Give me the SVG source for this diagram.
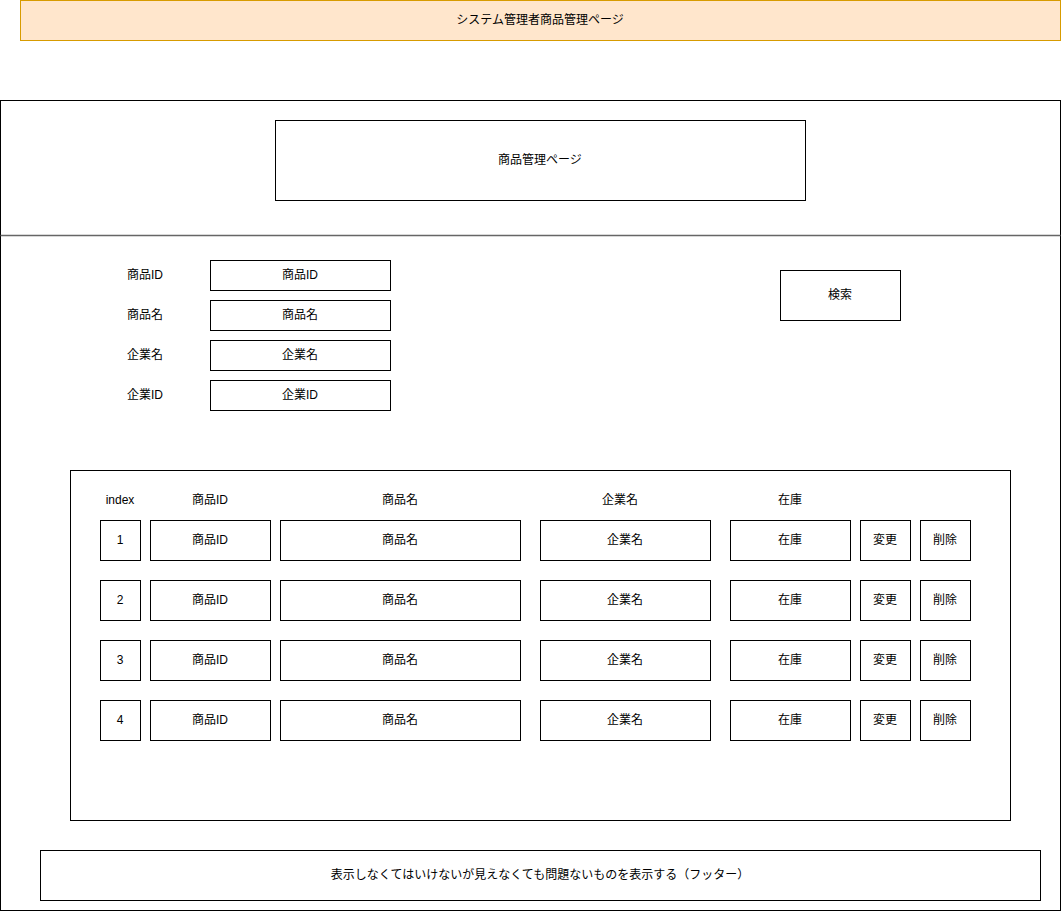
<svg xmlns="http://www.w3.org/2000/svg" width="1062" height="911" viewBox="0 0 1062 911">
<style>
rect{fill:#fff;stroke:#000;stroke-width:1}
text{font-family:"Liberation Sans","Noto Sans CJK JP",sans-serif;font-size:12px;fill:#000;text-anchor:middle;dominant-baseline:central}
</style>
<rect x="0" y="0" width="1062" height="911" style="stroke:none"/>
<g id="title"><rect x="20.5" y="0.5" width="1040" height="40" style="fill:#ffe6cc;stroke:#d79b00"/><text x="540" y="20">システム管理者商品管理ページ</text></g>
<g id="page"><rect x="0.5" y="100.5" width="1060" height="810"/></g>
<g id="connectors"><line x1="0.5" y1="235.5" x2="1060.5" y2="235.5" stroke="#666" stroke-width="1.5"/></g>
<g id="header"><rect x="275.5" y="120.5" width="530" height="80"/><text x="540" y="160">商品管理ページ</text></g>
<g id="search-form">
<text x="145" y="275">商品ID</text><rect x="210.5" y="260.5" width="180" height="30"/><text x="300" y="275">商品ID</text>
<text x="145" y="315">商品名</text><rect x="210.5" y="300.5" width="180" height="30"/><text x="300" y="315">商品名</text>
<text x="145" y="355">企業名</text><rect x="210.5" y="340.5" width="180" height="30"/><text x="300" y="355">企業名</text>
<text x="145" y="395">企業ID</text><rect x="210.5" y="380.5" width="180" height="30"/><text x="300" y="395">企業ID</text>
</g>
<g id="search-button"><rect x="780.5" y="270.5" width="120" height="50"/><text x="840" y="295">検索</text></g>
<g id="table">
<rect x="70.5" y="470.5" width="940" height="350"/>
<text x="120" y="500">index</text><text x="210" y="500">商品ID</text><text x="400" y="500">商品名</text><text x="620" y="500">企業名</text><text x="790" y="500">在庫</text>
</g>
<g id="row1">
<rect x="100.5" y="520.5" width="40" height="40"/><text x="120" y="540">1</text>
<rect x="150.5" y="520.5" width="120" height="40"/><text x="210" y="540">商品ID</text>
<rect x="280.5" y="520.5" width="240" height="40"/><text x="400" y="540">商品名</text>
<rect x="540.5" y="520.5" width="170" height="40"/><text x="625" y="540">企業名</text>
<rect x="730.5" y="520.5" width="120" height="40"/><text x="790" y="540">在庫</text>
<rect x="860.5" y="520.5" width="50" height="40"/><text x="885" y="540">変更</text>
<rect x="920.5" y="520.5" width="50" height="40"/><text x="945" y="540">削除</text>
</g>
<g id="row2">
<rect x="100.5" y="580.5" width="40" height="40"/><text x="120" y="600">2</text>
<rect x="150.5" y="580.5" width="120" height="40"/><text x="210" y="600">商品ID</text>
<rect x="280.5" y="580.5" width="240" height="40"/><text x="400" y="600">商品名</text>
<rect x="540.5" y="580.5" width="170" height="40"/><text x="625" y="600">企業名</text>
<rect x="730.5" y="580.5" width="120" height="40"/><text x="790" y="600">在庫</text>
<rect x="860.5" y="580.5" width="50" height="40"/><text x="885" y="600">変更</text>
<rect x="920.5" y="580.5" width="50" height="40"/><text x="945" y="600">削除</text>
</g>
<g id="row3">
<rect x="100.5" y="640.5" width="40" height="40"/><text x="120" y="660">3</text>
<rect x="150.5" y="640.5" width="120" height="40"/><text x="210" y="660">商品ID</text>
<rect x="280.5" y="640.5" width="240" height="40"/><text x="400" y="660">商品名</text>
<rect x="540.5" y="640.5" width="170" height="40"/><text x="625" y="660">企業名</text>
<rect x="730.5" y="640.5" width="120" height="40"/><text x="790" y="660">在庫</text>
<rect x="860.5" y="640.5" width="50" height="40"/><text x="885" y="660">変更</text>
<rect x="920.5" y="640.5" width="50" height="40"/><text x="945" y="660">削除</text>
</g>
<g id="row4">
<rect x="100.5" y="700.5" width="40" height="40"/><text x="120" y="720">4</text>
<rect x="150.5" y="700.5" width="120" height="40"/><text x="210" y="720">商品ID</text>
<rect x="280.5" y="700.5" width="240" height="40"/><text x="400" y="720">商品名</text>
<rect x="540.5" y="700.5" width="170" height="40"/><text x="625" y="720">企業名</text>
<rect x="730.5" y="700.5" width="120" height="40"/><text x="790" y="720">在庫</text>
<rect x="860.5" y="700.5" width="50" height="40"/><text x="885" y="720">変更</text>
<rect x="920.5" y="700.5" width="50" height="40"/><text x="945" y="720">削除</text>
</g>
<g id="footer"><rect x="40.5" y="850.5" width="1000" height="50"/><text x="540" y="875">表示しなくてはいけないが見えなくても問題ないものを表示する（フッター）</text></g>
</svg>
